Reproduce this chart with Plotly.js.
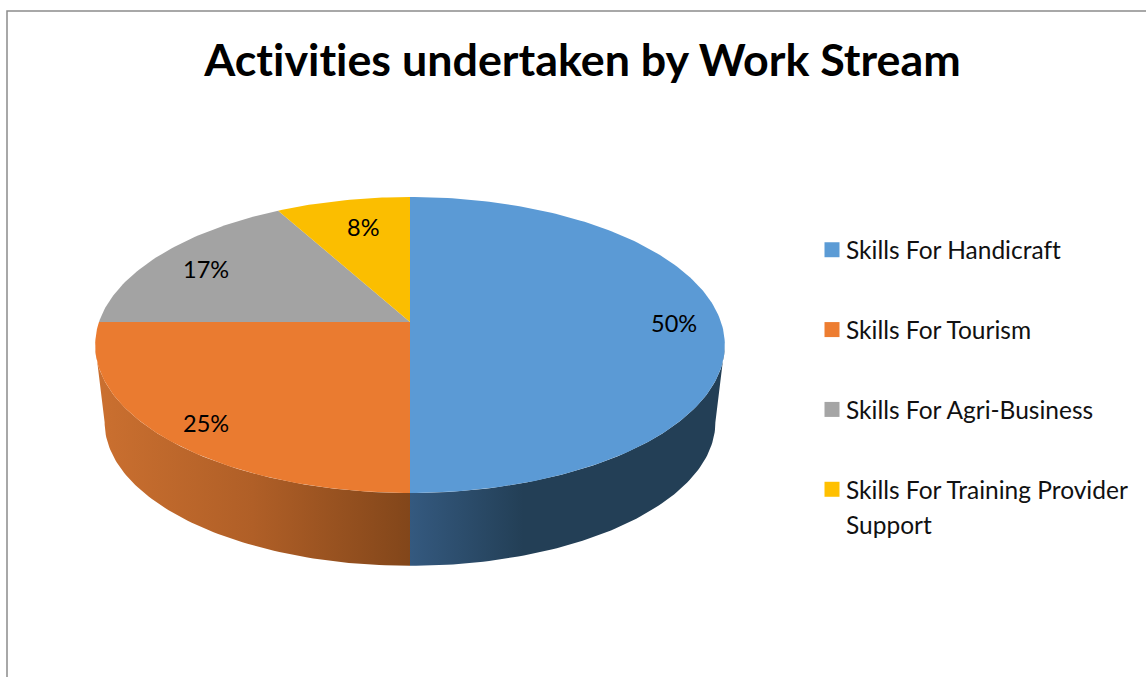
<!DOCTYPE html>
<html>
<head>
<meta charset="utf-8">
<script src="https://cdn.plot.ly/plotly-3.0.1.min.js"></script>
<style>html,body{margin:0;padding:0;background:#fff;overflow:hidden}#chart{width:1146px;height:677px}
svg text{font-variant-ligatures:none;font-feature-settings:"liga" 0,"clig" 0}
.legend .legendsymbols{transform:translate(6px,0)}</style>
</head>
<body>
<div id="chart"></div>
<script>
const titleText = 'Activities undertaken by Work Stream';
const categories = ['Skills For Handicraft', 'Skills For Tourism', 'Skills For Agri-Business', 'Skills For Training Provider<br>Support'];
const values = [50, 25, 17, 8];
const topColors = ['#5B9AD5', '#EA7B30', '#A3A3A3', '#FBBE00'];
const legendColors = ['#5B9BD5', '#ED7D31', '#A5A5A5', '#FFC000'];
const labelX = [674, 206, 206, 363];
const labelY = [323, 423, 269, 227];

// Perspective view of the pie disc, in the pixel-sized data space of the axes
const view = {cx: 410, cy: 322, b: 311, a: 144.4, p: 0.1554, wallScale: 0.97, wallCy: 400};
function rim(deg, scale, cy) {
  const t = deg * Math.PI / 180, u = Math.sin(t), v = -Math.cos(t), d = 1 - view.p * v;
  return [view.cx + scale * view.b * u / d, cy + scale * view.a * v / d];
}
function arc(from, to, scale, cy) {
  const pts = [], n = Math.max(2, Math.ceil(Math.abs(to - from)));
  for (let i = 0; i <= n; i++) pts.push(rim(from + (to - from) * i / n, scale, cy));
  return pts;
}
const total = values.reduce((a, b) => a + b, 0);
const edges = [0];
values.forEach(v => edges.push(edges[edges.length - 1] + v / total * 360));
const silhouette = Math.acos(-view.p) * 180 / Math.PI;

const traces = [];
// side walls: only what faces the viewer
const wallScales = [
  [[0, '#34597F'], [0.36, '#233F56'], [1, '#233F56']],
  [[0, '#CB7030'], [0.5, '#B05F27'], [1, '#82461A']]
];
[0, 1].forEach(i => {
  const from = Math.max(edges[i], silhouette), to = Math.min(edges[i + 1], 360 - silhouette);
  const pts = arc(from, to, 1, view.cy).concat(arc(to, from, view.wallScale, view.wallCy));
  pts.push(pts[0]);
  traces.push({
    type: 'scatter', mode: 'lines', x: pts.map(p => p[0]), y: pts.map(p => p[1]),
    fill: 'toself', line: {width: 0, color: 'rgba(0,0,0,0)'},
    fillgradient: {type: 'horizontal', colorscale: wallScales[i]},
    showlegend: false, hoverinfo: 'skip'
  });
});
// top faces
values.forEach((v, i) => {
  const pts = [[view.cx, view.cy]].concat(arc(edges[i], edges[i + 1], 1, view.cy));
  pts.push(pts[0]);
  traces.push({
    type: 'scatter', mode: 'lines', x: pts.map(p => p[0]), y: pts.map(p => p[1]),
    fill: 'toself', fillcolor: topColors[i], line: {width: 0, color: topColors[i]},
    showlegend: false, hoverinfo: 'skip'
  });
});
// legend entries (a wrapped name keeps its swatch on the first line; the rest is placed below it)
categories.forEach((c, i) => {
  traces.push({
    type: 'scatter', mode: 'markers', x: [null], y: [null], name: c.split('<br>')[0], legendgroup: 'g' + i,
    marker: {symbol: 'square', size: 15, color: legendColors[i]}, hoverinfo: 'skip'
  });
});
const legendFont = {family: 'Lato, sans-serif', size: 24.5, color: '#111'};
const wrapped = categories[3].split('<br>')[1];

const layout = {
  width: 1146, height: 677, margin: {l: 0, r: 0, t: 0, b: 0},
  paper_bgcolor: '#fff', plot_bgcolor: '#fff',
  font: {family: 'Lato, sans-serif', color: '#000'},
  title: {text: '<b>' + titleText + '</b>', x: 582.5 / 1146, xanchor: 'center', y: 1 - 60.5 / 677, yanchor: 'middle',
          font: {family: 'Lato, sans-serif', size: 44.8, color: '#000'}},
  xaxis: {range: [0, 1146], visible: false, fixedrange: true},
  yaxis: {range: [677, 0], visible: false, fixedrange: true},
  showlegend: true,
  legend: {x: 806 / 1146, xanchor: 'left', y: 1 - 227.3 / 677, yanchor: 'top', tracegroupgap: 45,
           font: legendFont, bgcolor: 'rgba(0,0,0,0)', itemclick: false, itemdoubleclick: false},
  shapes: [{type: 'path', xref: 'x', yref: 'y', path: 'M7,677 L7,11 L1146,11', line: {color: '#8C8C8C', width: 1.5}}],
  annotations: values.map((v, i) => ({
    x: labelX[i], y: labelY[i], xref: 'x', yref: 'y', showarrow: false,
    text: Math.round(v / total * 100) + '%', font: {family: 'Lato, sans-serif', size: 23.5, color: '#000'}
  })).concat([{x: 844, y: 524, xref: 'x', yref: 'y', xanchor: 'left', yanchor: 'middle', showarrow: false,
    text: wrapped, font: legendFont}])
};
Plotly.newPlot('chart', traces, layout, {displayModeBar: false, staticPlot: true});
</script>
</body>
</html>
